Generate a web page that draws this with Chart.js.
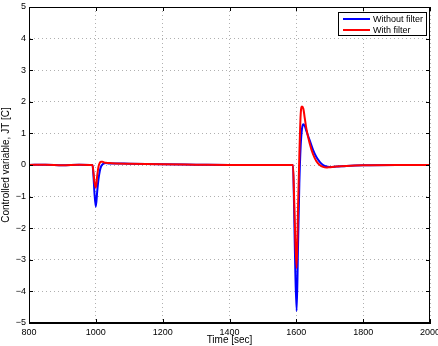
<!DOCTYPE html>
<html>
<head>
<meta charset="utf-8">
<script src="https://cdn.jsdelivr.net/npm/chart.js@4/dist/chart.umd.min.js"></script>
<style>
  html, body { margin: 0; padding: 0; background: #fff; }
  #chart { display: block; }
</style>
</head>
<body>
<canvas id="chart" width="438" height="346"></canvas>
<script>
// time axis (seconds)
const timeSec = [800, 850, 900, 950, 990, 993, 996, 1000, 1004, 1008, 1012, 1016, 1020, 1025, 1030, 1040, 1060,
  1100, 1200, 1300, 1400, 1500, 1590, 1593, 1597, 1601, 1605, 1609, 1613, 1617, 1621, 1625, 1630, 1640, 1650,
  1660, 1670, 1680, 1690, 1700, 1720, 1750, 1800, 1900, 2000];

const withoutFilter = [0.00, 0.01, -0.01, 0.01, 0.00, -0.35, -0.9, -1.32, -0.85, -0.45, -0.18, -0.04, 0.02, 0.05, 0.06, 0.05, 0.05,
  0.04, 0.02, 0.01, 0.00, 0.00, 0.00, -1.2, -3.4, -4.62, -2.6, -0.6, 0.6, 1.15, 1.29, 1.24, 1.08, 0.78, 0.48,
  0.25, 0.10, 0.00, -0.05, -0.06, -0.05, -0.03, -0.01, 0.00, 0.00];

const withFilter = [0.00, 0.01, -0.01, 0.01, 0.00, -0.25, -0.55, -0.72, -0.35, -0.05, 0.07, 0.10, 0.10, 0.08, 0.07, 0.06, 0.05,
  0.04, 0.02, 0.01, 0.00, 0.00, 0.00, -0.9, -2.4, -3.26, -1.4, 0.3, 1.6, 1.85, 1.78, 1.5, 1.15, 0.68, 0.34,
  0.12, 0.00, -0.06, -0.08, -0.07, -0.05, -0.03, -0.01, 0.00, 0.00];

const seriesLabels = ['Without filter', 'With filter'];
const seriesColors = ['#0000ff', '#ff0000'];
const xTicks = [800, 1000, 1200, 1400, 1600, 1800, 2000];
const yTicks = [-5, -4, -3, -2, -1, 0, 1, 2, 3, 4, 5];

const FONT = 'Liberation Sans, Arial, Helvetica, sans-serif';

function toPoints(values) {
  return timeSec.map((t, i) => ({ x: t, y: values[i] }));
}

// MATLAB style frame, inward ticks and boxed legend
const matlabFrame = {
  id: 'matlabFrame',
  afterDraw(chart) {
    const { ctx, chartArea: a, scales } = chart;
    ctx.save();
    ctx.strokeStyle = '#000';
    ctx.lineWidth = 1;
    ctx.strokeRect(a.left + 0.5, a.top + 0.5, a.right - a.left - 1, a.bottom - a.top - 1);

    ctx.beginPath();
    xTicks.forEach(v => {
      const x = Math.round(scales.x.getPixelForValue(v)) + 0.5;
      ctx.moveTo(x, a.bottom); ctx.lineTo(x, a.bottom - 4);
      ctx.moveTo(x, a.top); ctx.lineTo(x, a.top + 4);
    });
    yTicks.forEach(v => {
      const y = Math.round(scales.y.getPixelForValue(v)) + 0.5;
      ctx.moveTo(a.left, y); ctx.lineTo(a.left + 4, y);
      ctx.moveTo(a.right, y); ctx.lineTo(a.right - 4, y);
    });
    ctx.stroke();

    // legend
    const lx = 338, ly = 12, lw = 88, lh = 23;
    ctx.fillStyle = '#fff';
    ctx.fillRect(lx, ly, lw, lh);
    ctx.strokeRect(lx + 0.5, ly + 0.5, lw, lh);
    ctx.font = '9px ' + FONT;
    ctx.textBaseline = 'middle';
    ctx.textAlign = 'left';
    chart.data.datasets.forEach((ds, i) => {
      const y = ly + 7 + i * 11;
      ctx.strokeStyle = ds.borderColor;
      ctx.lineWidth = 2;
      ctx.beginPath();
      ctx.moveTo(lx + 5, y); ctx.lineTo(lx + 32, y);
      ctx.stroke();
      ctx.fillStyle = '#000';
      ctx.fillText(ds.label, lx + 35, y + 0.5);
    });
    ctx.restore();
  }
};

new Chart(document.getElementById('chart'), {
  type: 'line',
  data: {
    datasets: [0, 1].map(i => ({
      label: seriesLabels[i],
      data: toPoints(i === 0 ? withoutFilter : withFilter),
      borderColor: seriesColors[i],
      backgroundColor: seriesColors[i],
      borderWidth: 2,
      pointRadius: 0,
      cubicInterpolationMode: 'monotone',
      order: 1 - i,
      fill: false
    }))
  },
  options: {
    responsive: false,
    animation: false,
    layout: { padding: { top: 7, right: 0, left: 0, bottom: 0 } },
    plugins: {
      legend: { display: false },
      tooltip: { enabled: false }
    },
    scales: {
      x: {
        type: 'linear',
        min: 800,
        max: 2000,
        afterBuildTicks: s => { s.ticks = xTicks.map(v => ({ value: v })); },
        afterFit: s => { s.height = 23; s.paddingLeft = 0; s.paddingRight = 8; },
        ticks: { color: '#000', font: { family: FONT, size: 9 }, padding: 4, maxRotation: 0, callback: v => String(v) },
        grid: { color: '#b0b0b0', drawTicks: false, lineWidth: 1 },
        border: { color: '#000', dash: [1, 3] },
        title: { display: true, text: 'Time [sec]', color: '#000', font: { family: FONT, size: 10 }, padding: 0 }
      },
      y: {
        min: -5,
        max: 5,
        afterBuildTicks: s => { s.ticks = yTicks.map(v => ({ value: v })); },
        afterFit: s => { s.width = 29; s.paddingTop = 0; s.paddingBottom = 0; },
        ticks: {
          color: '#000', font: { family: FONT, size: 9 }, padding: 3,
          callback: v => (v < 0 ? '\u2212' + Math.abs(v) : String(v))
        },
        grid: { color: '#b0b0b0', drawTicks: false, lineWidth: 1 },
        border: { color: '#000', dash: [1, 3] },
        title: { display: true, text: 'Controlled variable, JT [C]', color: '#000', font: { family: FONT, size: 10 }, padding: 0 }
      }
    }
  },
  plugins: [matlabFrame]
});
</script>
</body>
</html>
